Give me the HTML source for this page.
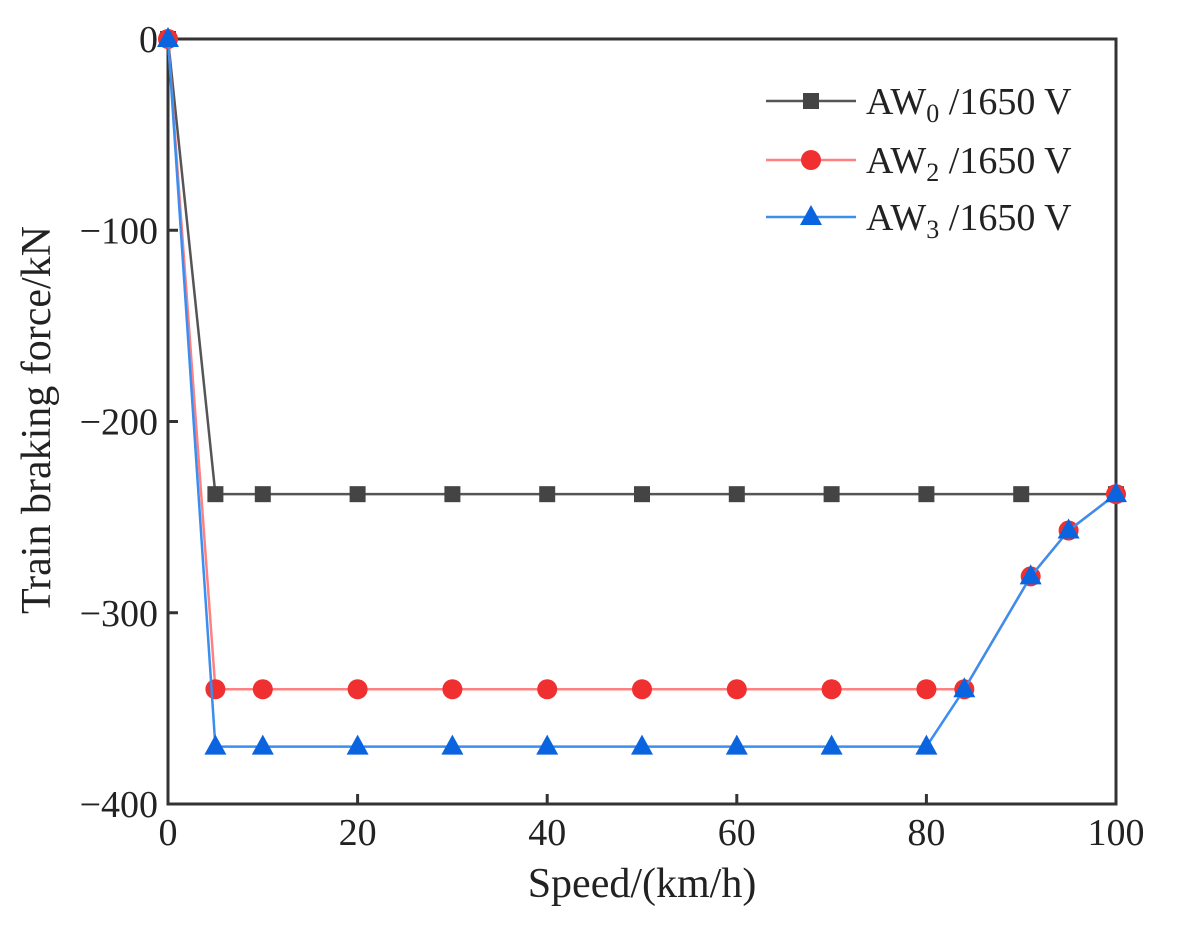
<!DOCTYPE html>
<html><head><meta charset="utf-8"><style>
body{margin:0;background:#fff}
svg{display:block;font-family:"Liberation Serif",serif}
</style></head><body>
<svg width="1179" height="933" viewBox="0 0 1179 933" id="c">
<rect width="1179" height="933" fill="#fff"/>
</svg>
<script>
const speeds=[0,5,10,20,30,40,50,60,70,80,84,91,95,100];
const aw0x=[0,5,10,20,30,40,50,60,70,80,90,100];
const aw0y=[0,-238,-238,-238,-238,-238,-238,-238,-238,-238,-238,-238];
const aw2=[0,-340,-340,-340,-340,-340,-340,-340,-340,-340,-340,-281,-257,-238];
const aw3=[0,-370,-370,-370,-370,-370,-370,-370,-370,-370,-340,-281,-257,-238];
const xTicks=[0,20,40,60,80,100];
const yTicks=[0,-100,-200,-300,-400];
const NS='http://www.w3.org/2000/svg';
const svg=document.getElementById('c');
const L=168,R=1116,T=39,B=804;
const X=v=>L+(v-0)/100*(R-L);
const Y=v=>T+(0-v)/400*(B-T);
function mk(tag,at,parent){const e=document.createElementNS(NS,tag);for(const k in at)e.setAttribute(k,at[k]);(parent||svg).appendChild(e);return e;}
const fr=mk('rect',{x:L,y:T,width:R-L,height:B-T,fill:'none',stroke:'#333','stroke-width':3});


xTicks.forEach(t=>{
  const l=mk('line',{x1:X(t),x2:X(t),y1:B,y2:B-10,stroke:'#333','stroke-width':3});
  
  
  const tx=mk('text',{x:X(t),y:845,'font-size':38,'text-anchor':'middle',fill:'#222'});
  tx.textContent=t;
  
  
});
yTicks.forEach(t=>{
  const l=mk('line',{x1:L,x2:L+10,y1:Y(t),y2:Y(t),stroke:'#333','stroke-width':3});
  
  
  const tx=mk('text',{x:158,y:Y(t)+13,'font-size':38,'text-anchor':'end',fill:'#222'});
  tx.textContent=t===0?'0':'\u2212'+(-t);
  
  
});
const xt=mk('text',{x:642,y:897,'font-size':42,'text-anchor':'middle',fill:'#222'});
xt.textContent='Speed/(km/h)';


const yt=mk('text',{x:0,y:0,'font-size':42,'text-anchor':'middle',fill:'#222',transform:'translate(50,420) rotate(-90)'});
yt.textContent='Train braking force/kN';


function marker(shape,x,y,col,g){
  if(shape==='sq')return mk('rect',{x:x-8,y:y-8,width:16,height:16,fill:col},g);
  if(shape==='ci')return mk('circle',{cx:x,cy:y,r:10,fill:col},g);
  return mk('polygon',{points:`${x},${y-12} ${x-11},${y+8} ${x+11},${y+8}`,fill:col},g);
}
function series(xs,ys,line,col,shape,name){
  const g=mk('g',{});
  
  
  mk('polyline',{points:xs.map((v,i)=>X(v)+','+Y(ys[i])).join(' '),fill:'none',stroke:line,'stroke-width':2.5},g);
  xs.forEach((v,i)=>marker(shape,X(v),Y(ys[i]),col,g));
}
series(aw0x,aw0y,'#555','#444','sq','series-aw0');
series(speeds,aw2,'#ff8080','#f03030','ci','series-aw2');
series(speeds,aw3,'#3a8ef0','#0a64e0','tr','series-aw3');
const leg=[['AW','0','#555','#444','sq',101],['AW','2','#ff8080','#f03030','ci',160],['AW','3','#3a8ef0','#0a64e0','tr',217]];
leg.forEach(([a,s,line,col,shape,y])=>{
  const g=mk('g',{});
  
  
  mk('line',{x1:766,x2:856,y1:y,y2:y,stroke:line,'stroke-width':2.5},g);
  marker(shape,811,y,col,g);
  const t=mk('text',{x:866,y:y+13,'font-size':38,fill:'#222'},g);
  t.innerHTML=`AW<tspan font-size="26" dy="8">${s}</tspan><tspan dy="-8"> /1650 V</tspan>`;
});
</script>
</body></html>
